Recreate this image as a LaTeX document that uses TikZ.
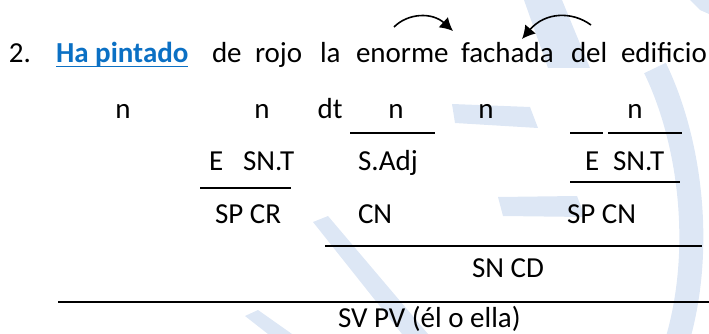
\documentclass[tikz,border=0pt]{standalone}
\usepackage{fontspec}
\setmainfont{Carlito}
\usetikzlibrary{arrows.meta}
\definecolor{wm}{HTML}{DDE7F5}
\definecolor{hblue}{HTML}{0B70C4}
\begin{document}
\begin{tikzpicture}[x=1pt,y=-1pt,
  txt/.style={inner sep=0pt,outer sep=0pt,anchor=base west,font=\fontsize{29}{34}\selectfont},
  ctxt/.style={txt,anchor=base},
  rule/.style={line width=1.6pt,black},
  arr/.style={line width=1.6pt,-{Latex[length=13pt,width=14pt]}},
  wmfill/.style={fill=wm,draw=none}]
\useasboundingbox (0,0) rectangle (709,334);
% watermark
\fill[wmfill] (524,0) -- (562,0) -- (590,68) -- (548,68) -- cycle;
\fill[wmfill] (690,0) -- (709,0) -- (709,14) -- (700,10) -- cycle;
\draw[wm,line width=24pt] (655,68) .. controls (690,140) and (705,250) .. (676,345);
\fill[wmfill] (452,104) -- (530,107) -- (538,128) -- (455,123) -- cycle;
\fill[wmfill] (498,197) -- (577,196) -- (585,217) -- (503,216) -- cycle;
\fill[wmfill] (313,222) -- (328,216) -- (428,334) -- (402,334) -- cycle;
\fill[wmfill] (245,316) -- (258,310) -- (292,334) -- (268,334) -- cycle;
% sentence
\node[txt] (num) at (9,63) {2.};
\node[txt,font=\fontsize{29}{34}\selectfont\bfseries,text=hblue] (hp) at (56,63) {Ha pintado};
\draw[hblue,line width=1.8pt] ([yshift=-3.5pt]hp.base west) -- ([yshift=-3.5pt]hp.base east);
\node[txt] (w1) at (212,63) {de};
\node[txt] (w2) at (255,63) {rojo};
\node[txt] (w3) at (320,63) {la};
\node[txt] (w4) at (356,63) {enorme};
\node[txt] (w5) at (461,63) {fachada};
\node[txt] (w6) at (571,63) {del};
\node[txt] (w7) at (621,63) {edificio};
% arrows
\coordinate (a1s) at (394,27);
\coordinate (a1e) at (453,31);
\coordinate (a2s) at (591,25);
\coordinate (a2e) at (522,39);
\draw[arr] (a1s) .. controls (408,13) and (432,12) .. (a1e);
\draw[arr] (a2s) .. controls (572,11) and (545,12) .. (a2e);
% row 2
\node[ctxt] (n1) at (123,118) {n};
\node[ctxt] (n2) at (262,118) {n};
\node[ctxt] (dt) at (330,118) {dt};
\node[ctxt] (n3) at (396,118) {n};
\node[ctxt] (n4) at (486,118) {n};
\node[ctxt] (n5) at (635,118) {n};
\coordinate (l1a) at (350,133); \coordinate (l1b) at (435,133);
\coordinate (l2a) at (570,133); \coordinate (l2b) at (603,133);
\coordinate (l3a) at (608,133); \coordinate (l3b) at (682,133);
\draw[rule] (l1a) -- (l1b);
\draw[rule] (l2a) -- (l2b);
\draw[rule] (l3a) -- (l3b);
% row 3
\node[txt] (e1) at (209,170) {E};
\node[txt] (snt1) at (243,170) {SN.T};
\node[txt] (sadj) at (358,170) {S.Adj};
\node[txt] (e2) at (585,170) {E};
\node[txt] (snt2) at (613,170) {SN.T};
\coordinate (l4a) at (200,188); \coordinate (l4b) at (291,188);
\coordinate (l5a) at (570,182); \coordinate (l5b) at (680,182);
\draw[rule] (l4a) -- (l4b);
\draw[rule] (l5a) -- (l5b);
% row 4
\node[txt] (spcr) at (215,223) {SP CR};
\node[txt] (cn) at (358,223) {CN};
\node[txt] (spcn) at (567,223) {SP CN};
\coordinate (l6a) at (325,246); \coordinate (l6b) at (702,246);
\draw[rule] (l6a) -- (l6b);
% row 5
\node[txt] (sncd) at (472,277) {SN CD};
\coordinate (l7a) at (58,302); \coordinate (l7b) at (709,302);
\draw[rule] (l7a) -- (l7b);
% row 6
\node[txt] (svpv) at (338,327) {SV PV (él o ella)};
\end{tikzpicture}
\end{document}
